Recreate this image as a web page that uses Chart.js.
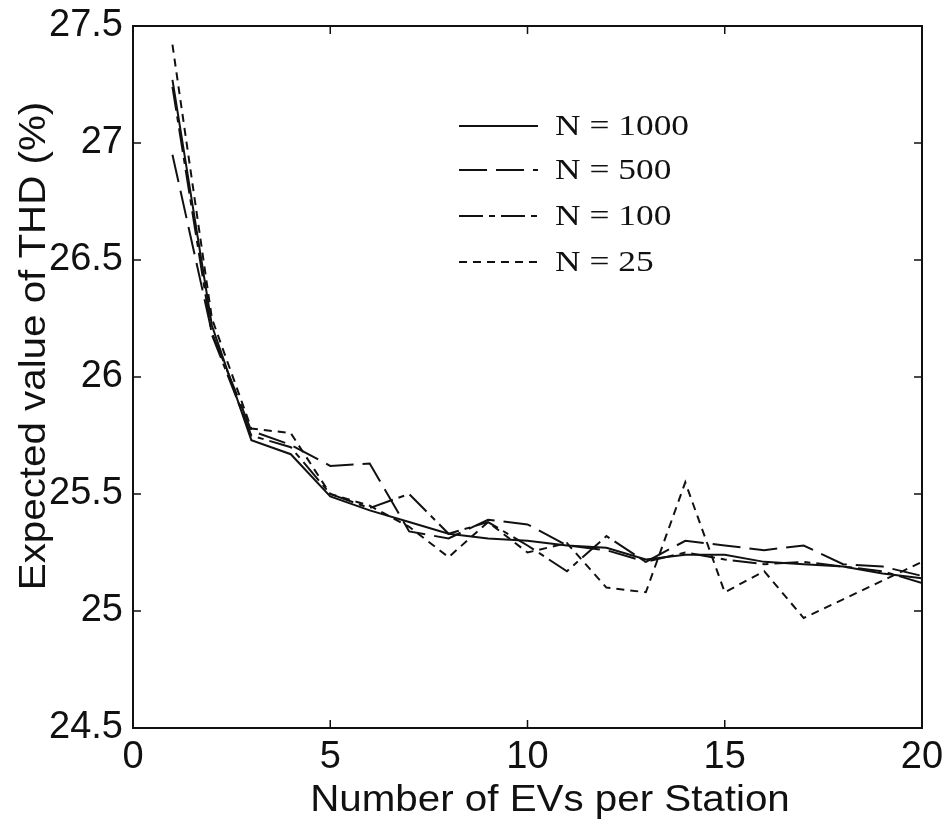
<!DOCTYPE html>
<html>
<head>
<meta charset="utf-8">
<script src="https://cdn.jsdelivr.net/npm/chart.js@4.4.1/dist/chart.umd.min.js"></script>
<style>
  html, body { margin: 0; padding: 0; background: #fff; }
  #wrap { width: 945px; height: 825px; }
</style>
</head>
<body>
<div id="wrap"><canvas id="thdChart" width="945" height="825"></canvas></div>
<script>
const evsPerStation = [1, 2, 3, 4, 5, 6, 7, 8, 9, 10, 11, 12, 13, 14, 15, 16, 17, 18, 19, 20];

const thdN1000 = [27.27, 26.22, 25.73, 25.67, 25.49, 25.43, 25.38, 25.33, 25.31, 25.30,
                  25.28, 25.27, 25.22, 25.24, 25.24, 25.21, 25.20, 25.19, 25.16, 25.14];
const thdN500 = [26.95, 26.19, 25.77, 25.71, 25.62, 25.63, 25.34, 25.31, 25.39, 25.37,
                 25.28, 25.26, 25.21, 25.30, 25.28, 25.26, 25.28, 25.20, 25.19, 25.15];
const thdN100 = [27.24, 26.18, 25.75, 25.70, 25.50, 25.44, 25.50, 25.33, 25.38, 25.28,
                 25.17, 25.32, 25.21, 25.25, 25.22, 25.20, 25.21, 25.19, 25.17, 25.12];
const thdN25 = [27.42, 26.25, 25.78, 25.76, 25.50, 25.45, 25.36, 25.23, 25.38, 25.25,
                25.29, 25.10, 25.08, 25.55, 25.08, 25.17, 24.97, 25.05, 25.13, 25.21];

const seriesLabels = ["N = 1000", "N = 500", "N = 100", "N = 25"];
const xTicks = [0, 5, 10, 15, 20];
const yTicks = [24.5, 25, 25.5, 26, 26.5, 27, 27.5];
const xTitle = "Number of EVs per Station";
const yTitle = "Expected value of THD (%)";

const lineColor = "#111";
const dashes = [[], [28, 9], [24, 6, 6, 6], [8, 6]];
const seriesValues = [thdN1000, thdN500, thdN100, thdN25];

function toPoints(values) {
  return values.map((v, i) => ({ x: evsPerStation[i], y: v }));
}

const datasets = seriesValues.map((vals, i) => ({
  label: seriesLabels[i],
  data: toPoints(vals),
  borderColor: lineColor,
  borderWidth: 2,
  borderDash: dashes[i],
  pointRadius: 0,
  tension: 0,
  fill: false
}));

const sansFont = "'Liberation Sans', Arial, sans-serif";

// box round the plot with inward ticks on all four sides
const frameTicks = {
  id: "frameTicks",
  afterDraw(chart) {
    const { ctx, chartArea: a, scales } = chart;
    const len = 8;
    ctx.save();
    ctx.strokeStyle = lineColor;
    ctx.setLineDash([]);
    ctx.lineWidth = 2;
    ctx.strokeRect(a.left, a.top, a.right - a.left, a.bottom - a.top);
    ctx.lineWidth = 1.5;
    ctx.beginPath();
    scales.x.ticks.forEach((t) => {
      const px = scales.x.getPixelForValue(t.value);
      ctx.moveTo(px, a.bottom); ctx.lineTo(px, a.bottom - len);
      ctx.moveTo(px, a.top); ctx.lineTo(px, a.top + len);
    });
    scales.y.ticks.forEach((t) => {
      const py = scales.y.getPixelForValue(t.value);
      ctx.moveTo(a.left, py); ctx.lineTo(a.left + len, py);
      ctx.moveTo(a.right, py); ctx.lineTo(a.right - len, py);
    });
    ctx.stroke();
    ctx.restore();
  }
};

// axis titles, a little wider than the plain font like the scanned figure
const axisTitles = {
  id: "axisTitles",
  afterDraw(chart) {
    const ctx = chart.ctx;
    ctx.save();
    ctx.fillStyle = lineColor;
    ctx.font = "36px " + sansFont;
    ctx.textAlign = "center";
    ctx.textBaseline = "middle";

    ctx.save();
    ctx.translate(550, 801);
    ctx.scale(1.12, 1);
    ctx.fillText(xTitle, 0, 0);
    ctx.restore();

    ctx.save();
    ctx.translate(35, 346);
    ctx.rotate(-Math.PI / 2);
    ctx.scale(1.12, 1);
    ctx.fillText(yTitle, 0, 0);
    ctx.restore();

    ctx.restore();
  }
};

// legend drawn inside the plot, MATLAB style
const insideLegend = {
  id: "insideLegend",
  afterDraw(chart) {
    const ctx = chart.ctx;
    const x0 = 459, x1 = 538, textX = 555;
    const rows = [126, 170, 216, 262];
    ctx.save();
    chart.data.datasets.forEach((ds, i) => {
      const y = rows[i];
      ctx.strokeStyle = lineColor;
      ctx.lineWidth = 2;
      ctx.setLineDash(ds.borderDash || []);
      ctx.beginPath();
      ctx.moveTo(x0, y);
      ctx.lineTo(x1, y);
      ctx.stroke();
      ctx.setLineDash([]);
      ctx.save();
      ctx.translate(textX, y);
      ctx.scale(1.18, 1);
      ctx.fillStyle = lineColor;
      ctx.font = "30px 'Liberation Serif', 'Times New Roman', serif";
      ctx.textBaseline = "middle";
      ctx.textAlign = "left";
      ctx.fillText(ds.label, 0, 1);
      ctx.restore();
    });
    ctx.restore();
  }
};

const axisFont = { family: sansFont, size: 38 };

new Chart(document.getElementById("thdChart"), {
  type: "line",
  data: { datasets },
  options: {
    responsive: false,
    animation: false,
    layout: { padding: { left: 0, right: 23, top: 26, bottom: 0 } },
    plugins: {
      legend: { display: false },
      tooltip: { enabled: false }
    },
    scales: {
      x: {
        type: "linear",
        min: 0,
        max: 20,
        afterBuildTicks: (s) => { s.ticks = xTicks.map((v) => ({ value: v })); },
        afterFit: (s) => { s.height = 97; s.paddingLeft = 0; s.paddingRight = 0; },
        grid: { display: false, drawTicks: false },
        border: { display: false },
        ticks: { color: lineColor, font: axisFont, padding: 7, maxRotation: 0 }
      },
      y: {
        type: "linear",
        min: 24.5,
        max: 27.5,
        afterBuildTicks: (s) => { s.ticks = yTicks.map((v) => ({ value: v })); },
        afterFit: (s) => { s.width = 133; s.paddingTop = 0; s.paddingBottom = 0; },
        grid: { display: false, drawTicks: false },
        border: { display: false },
        ticks: {
          color: lineColor,
          font: axisFont,
          padding: 10,
          callback: (v) => String(v)
        }
      }
    }
  },
  plugins: [frameTicks, axisTitles, insideLegend]
});
</script>
</body>
</html>
